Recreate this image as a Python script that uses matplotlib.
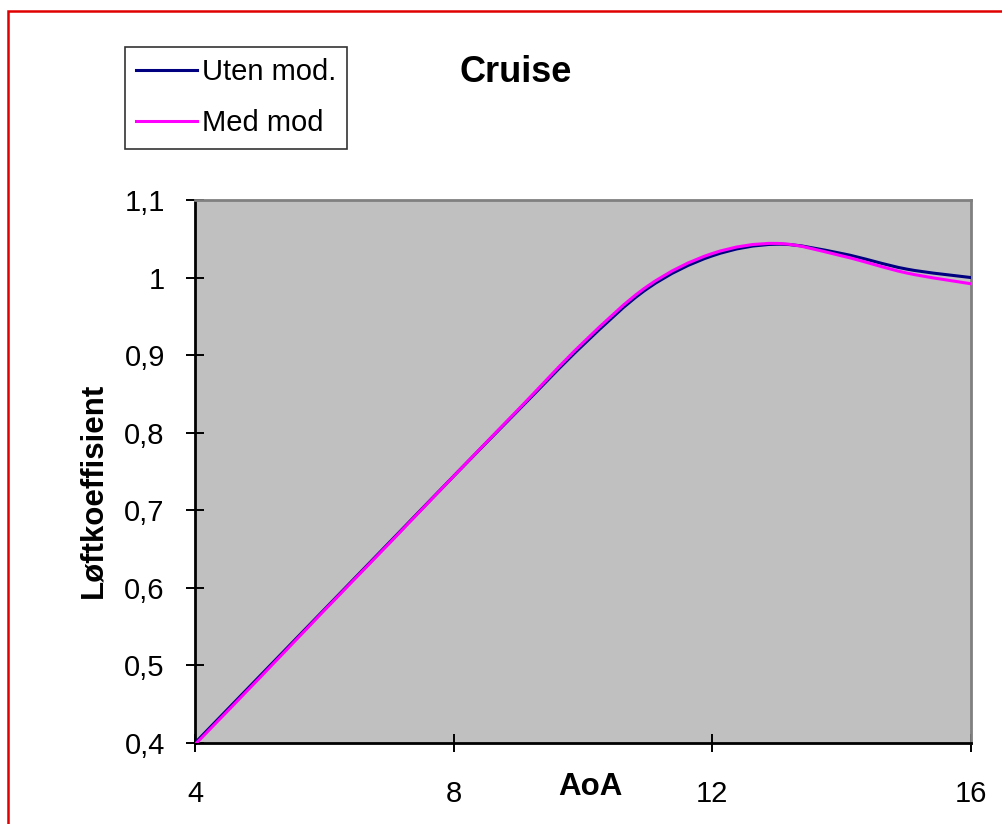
import matplotlib.pyplot as plt
import numpy as np
from matplotlib.path import Path
from matplotlib.patches import PathPatch, Rectangle
from matplotlib.lines import Line2D
from matplotlib.ticker import FuncFormatter

plt.rcParams['font.family'] = ['Liberation Sans', 'DejaVu Sans']

aoa = [4, 5, 6, 7, 8, 9, 10, 11, 12, 13, 14, 15, 16]
uten_mod = [0.400, 0.486, 0.572, 0.658, 0.744, 0.829, 0.913, 0.986, 1.028, 1.043, 1.031, 1.011, 1.000]
med_mod = [0.398, 0.484, 0.571, 0.657, 0.744, 0.830, 0.916, 0.989, 1.031, 1.044, 1.028, 1.006, 0.992]
series_names = ["Uten mod.", "Med mod"]
series_colors = ["#000080", "#FF00FF"]


def smooth_path(x, y, t=1/6):
    # bezier segments through each point, like a spreadsheet "smoothed line"
    x = np.asarray(x, float)
    y = np.asarray(y, float)
    verts = [(x[0], y[0])]
    codes = [Path.MOVETO]
    n = len(x)
    for i in range(n - 1):
        i0 = max(i - 1, 0)
        i3 = min(i + 2, n - 1)
        c1 = (x[i] + (x[i + 1] - x[i0]) * t, y[i] + (y[i + 1] - y[i0]) * t)
        c2 = (x[i + 1] - (x[i3] - x[i]) * t, y[i + 1] - (y[i3] - y[i]) * t)
        verts += [c1, c2, (x[i + 1], y[i + 1])]
        codes += [Path.CURVE4] * 3
    return Path(verts, codes)


fig = plt.figure(figsize=(10.03, 8.24), dpi=100)
ax = fig.add_axes([0.1944, 0.0983, 0.7737, 0.6590])
ax.set_facecolor("#C0C0C0")

for ys, c in zip([uten_mod, med_mod], series_colors):
    ax.add_patch(PathPatch(smooth_path(aoa, ys), facecolor="none", edgecolor=c,
                           lw=2.2, capstyle="round", zorder=3))

ax.set_xlim(4, 16)
ax.set_ylim(0.4, 1.1)
ax.set_xticks([4, 8, 12, 16])
ax.set_yticks(np.arange(0.4, 1.1001, 0.1))
ax.yaxis.set_major_formatter(FuncFormatter(lambda v, p: ("%g" % round(v, 1)).replace(".", ",")))
ax.tick_params(direction="inout", length=13.5, width=1.4, labelsize=21, colors="black")
ax.tick_params(axis="x", pad=20)
ax.tick_params(axis="y", pad=15)

for s in ["left", "bottom"]:
    ax.spines[s].set_linewidth(2)
    ax.spines[s].set_color("black")
for s in ["top", "right"]:
    ax.spines[s].set_linewidth(2)
    ax.spines[s].set_color("#808080")

ax.set_xlabel("AoA", fontsize=22.5, fontweight="bold")
ax.xaxis.set_label_coords(0.509, -0.053)
ax.set_ylabel("Løftkoeffisient", fontsize=22.5, fontweight="bold")
ax.yaxis.set_label_coords(-0.112, 0.465)

fig.text(0.514, 1 - 82 / 824, "Cruise", fontsize=26, fontweight="bold", ha="center", va="baseline")

handles = [Line2D([], [], color=c, lw=2.2) for c in series_colors]
leg = fig.legend(handles, series_names, loc="upper left", bbox_to_anchor=(125 / 1003, 1 - 47 / 824),
                 frameon=True, fancybox=False, edgecolor="black", fontsize=21,
                 handlelength=2.1, handletextpad=0.15, labelspacing=0.8,
                 borderpad=0.38, borderaxespad=0)
leg.get_frame().set_linewidth(1.2)

# red frame around the chart
fig.patches.append(Rectangle((8 / 1003, -0.2), 1.2, 1.2 - 11 / 824, transform=fig.transFigure,
                             fill=False, edgecolor="#E00000", lw=1.8))

fig.savefig("out.png", dpi=100)
